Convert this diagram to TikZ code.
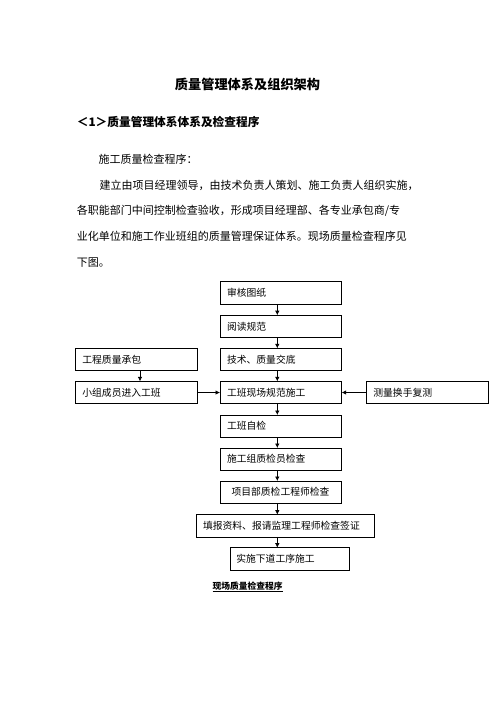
\documentclass[tikz,border=0pt]{standalone}
\usepackage{fontspec}
\setmainfont{Noto Sans CJK SC}
\usetikzlibrary{arrows.meta}
\XeTeXlinebreaklocale "zh"
\XeTeXlinebreakskip=0pt plus 4pt
\begin{document}
\begin{tikzpicture}[x=1pt,y=-1pt,
  box/.style={draw, line width=0.7pt, minimum height=22.3pt, inner xsep=7pt, inner ysep=0pt,
              outer sep=0pt, align=left, text width=107.7pt, font=\fontsize{9.8}{11}\selectfont},
  arr/.style={line width=0.7pt, -{Latex[length=4.5pt,width=4.5pt]}},
  body/.style={anchor=base west, inner sep=0pt, font=\fontsize{11}{13}\selectfont}]
\useasboundingbox (0,0) rectangle (496,702);

% title and heading
\node[inner sep=0pt, anchor=base, font=\fontsize{13.2}{15}\selectfont\bfseries] (title) at (247.5,89) {质量管理体系及组织架构};
\node[inner sep=0pt, anchor=base west, font=\fontsize{11.7}{14}\selectfont\bfseries] (head) at (76.7,126.1) {＜1＞质量管理体系体系及检查程序};

% body text
\node[body] (p0) at (98.3,163.5) {施工质量检查程序：};
\node[body] (p1) at (99.3,189.2) {\hbox to 321.2pt{建立由项目经理领导，由技术负责人策划、施工负责人组织实施，}};
\node[body] (p2) at (76.7,214.9) {\hbox to 347.8pt{各职能部门中间控制检查验收，形成项目经理部、各专业承包商/专}};
\node[body] (p3) at (76.7,240.9) {\hbox to 344.3pt{业化单位和施工作业班组的质量管理保证体系。现场质量检查程序见}};
\node[body] (p4) at (76.7,266.9) {下图。};

% flowchart boxes
\node[box] (a1) at (280.85,292.85) {审核图纸};
\node[box] (a2) at (280.85,326.35) {阅读规范};
\node[box] (a3) at (280.85,359.5) {技术、质量交底};
\node[box] (l1) at (136.2,359.5) {工程质量承包};
\node[box] (l2) at (136.2,392.5) {小组成员进入工班};
\node[box] (a4) at (280.85,392.5) {工班现场规范施工};
\node[box] (r1) at (427.2,392.5) {测量换手复测};
\node[box] (a5) at (280.85,426.15) {工班自检};
\node[box] (a6) at (280.85,459.15) {施工组质检员检查};
\node[box] (a7) at (280.85,492.15) {\hspace{4.5pt}项目部质检工程师检查};
\node[box, text width=164.3pt] (a8) at (285.15,525.8) {填报资料、报请监理工程师检查签证};
\node[box, text width=107.4pt, inner xsep=6pt, minimum height=22.3pt] (a9) at (290,558.85) {实施下道工序施工};

% caption
\node[inner sep=0pt, anchor=base, font=\fontsize{8.75}{10}\selectfont\bfseries] (cap) at (247.5,589.3) {\underline{现场质量检查程序}};

% connectors
\coordinate (ax) at (277.3,0);
\coordinate (lx) at (140,0);
\draw[arr] (a1.south -| ax) -- (a2.north -| ax);
\draw[arr] (a2.south -| ax) -- (a3.north -| ax);
\draw[arr] (a3.south -| ax) -- (a4.north -| ax);
\draw[arr] (a4.south -| ax) -- (a5.north -| ax);
\draw[arr] (a5.south -| ax) -- (a6.north -| ax);
\draw[arr] (a6.south -| ax) -- (a7.north -| ax);
\draw[arr] (a7.south -| ax) -- (a8.north -| ax);
\draw[arr] (a8.south -| ax) -- (a9.north -| ax);
\draw[arr] (l1.south -| lx) -- (l2.north -| lx);
\draw[arr] (l2.east) -- (a4.west);
\draw[arr] (r1.west) -- (a4.east);
\end{tikzpicture}
\end{document}
